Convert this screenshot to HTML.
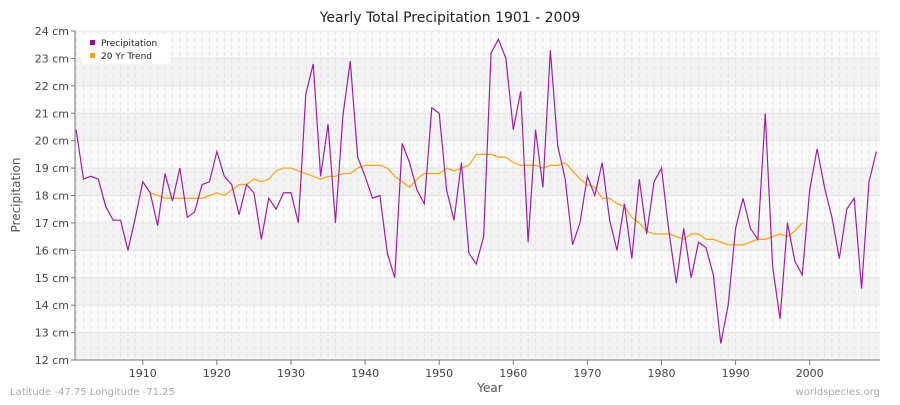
<!DOCTYPE html>
<html><head><meta charset="utf-8"><style>
body{margin:0;background:#fff;font-family:"Liberation Sans",sans-serif}
svg text{font-family:"DejaVu Sans","Liberation Sans",sans-serif}
</style></head><body>
<svg id="s" width="900" height="400" xmlns="http://www.w3.org/2000/svg"></svg>
<script>
const P=[20.4,18.6,18.7,18.6,17.6,17.1,17.1,16.0,17.2,18.5,18.1,16.9,18.8,17.8,19.0,17.2,17.4,18.4,18.5,19.6,18.7,18.4,17.3,18.4,18.1,16.4,17.9,17.5,18.1,18.1,17.0,21.7,22.8,18.7,20.6,17.0,20.9,22.9,19.4,18.7,17.9,18.0,15.9,15.0,19.9,19.2,18.2,17.7,21.2,21.0,18.2,17.1,19.2,15.9,15.5,16.5,23.2,23.7,23.0,20.4,21.8,16.3,20.4,18.3,23.3,19.8,18.6,16.2,17.0,18.7,18.0,19.2,17.1,16.0,17.7,15.7,18.6,16.6,18.5,19.0,16.7,14.8,16.8,15.0,16.3,16.1,15.1,12.6,14.0,16.8,17.9,16.8,16.4,21.0,15.4,13.5,17.0,15.6,15.1,18.2,19.7,18.3,17.2,15.7,17.5,17.9,14.6,18.5,19.6];
const T=[18.1,18.0,17.9,17.9,17.9,17.9,17.9,17.9,18.0,18.1,18.0,18.2,18.4,18.4,18.6,18.5,18.6,18.9,19.0,19.0,18.9,18.8,18.7,18.6,18.7,18.7,18.8,18.8,19.0,19.1,19.1,19.1,19.0,18.7,18.5,18.3,18.6,18.8,18.8,18.8,19.0,18.9,19.0,19.1,19.5,19.5,19.5,19.4,19.4,19.2,19.1,19.1,19.1,19.0,19.1,19.1,19.2,18.9,18.6,18.4,18.3,17.9,17.9,17.7,17.6,17.2,17.0,16.7,16.6,16.6,16.6,16.5,16.4,16.6,16.6,16.4,16.4,16.3,16.2,16.2,16.2,16.3,16.4,16.4,16.5,16.6,16.5,16.7,17.0];
const L=75,R=880,Y0=31,Y1=360;
const X=y=>76.1+(y-1901)*7.41, Y=v=>Y1-(v-12)*(Y1-Y0)/12;
let h='';
for(let c=12;c<24;c++){h+=`<rect x="${L}" y="${Y(c+1)}" width="${R-L}" height="${Y(c)-Y(c+1)}" fill="${c%2==0?'#f3f3f3':'#fafafa'}"/>`;}
for(let y=1901;y<=2009;y++){h+=`<line x1="${X(y)}" x2="${X(y)}" y1="${Y0}" y2="${Y1}" stroke="#e2e2e2" stroke-dasharray="4,3" stroke-width="1"/>`;}
for(let c=12;c<=24;c++){h+=`<line x1="${L}" x2="${R}" y1="${Y(c)}" y2="${Y(c)}" stroke="#e4e4e4"/>`;
h+=`<line x1="${L-4}" x2="${L}" y1="${Y(c)}" y2="${Y(c)}" stroke="#777"/>`;
h+=`<text x="${L-6}" y="${Y(c)+4}" font-size="11" fill="#444" text-anchor="end">${c} cm</text>`;}
h+=`<line x1="${L}" x2="${L}" y1="${Y0}" y2="${Y1}" stroke="#777"/><line x1="${L}" x2="${R}" y1="${Y1}" y2="${Y1}" stroke="#777"/>`;
for(let y=1910;y<=2000;y+=10){h+=`<line x1="${X(y)}" x2="${X(y)}" y1="${Y1}" y2="${Y1+5}" stroke="#777"/><text x="${X(y)}" y="${Y1+17}" font-size="11" fill="#444" text-anchor="middle">${y}</text>`;}
h+=`<polyline fill="none" stroke="#ffa31a" stroke-width="1.2" points="${T.map((v,i)=>X(1911+i)+','+Y(v)).join(' ')}"/>`;
h+=`<polyline fill="none" stroke="#a01fa8" stroke-width="1.2" points="${P.map((v,i)=>X(1901+i)+','+Y(v)).join(' ')}"/>`;
h+=`<rect x="81" y="34" width="90" height="30" rx="4" fill="#fff" opacity="0.9"/>`;
h+=`<rect x="90" y="40" width="5" height="5" fill="#990099"/><text x="101" y="46" font-size="9" fill="#222">Precipitation</text>`;
h+=`<rect x="90" y="53" width="5" height="5" fill="#ffa500"/><text x="101" y="59" font-size="9" fill="#222">20 Yr Trend</text>`;
h+=`<text x="450" y="22" font-size="14" fill="#222" text-anchor="middle">Yearly Total Precipitation 1901 - 2009</text>`;
h+=`<text x="490" y="392" font-size="12" fill="#555" text-anchor="middle">Year</text>`;
h+=`<text x="20" y="195" font-size="12" fill="#555" text-anchor="middle" transform="rotate(-90 20 195)">Precipitation</text>`;
h+=`<text x="10" y="395" font-size="10" fill="#aaa">Latitude -47.75 Longitude -71.25</text>`;
h+=`<text x="880" y="395" font-size="10" fill="#aaa" text-anchor="end">worldspecies.org</text>`;
document.getElementById('s').innerHTML=h;
</script>
</body></html>
